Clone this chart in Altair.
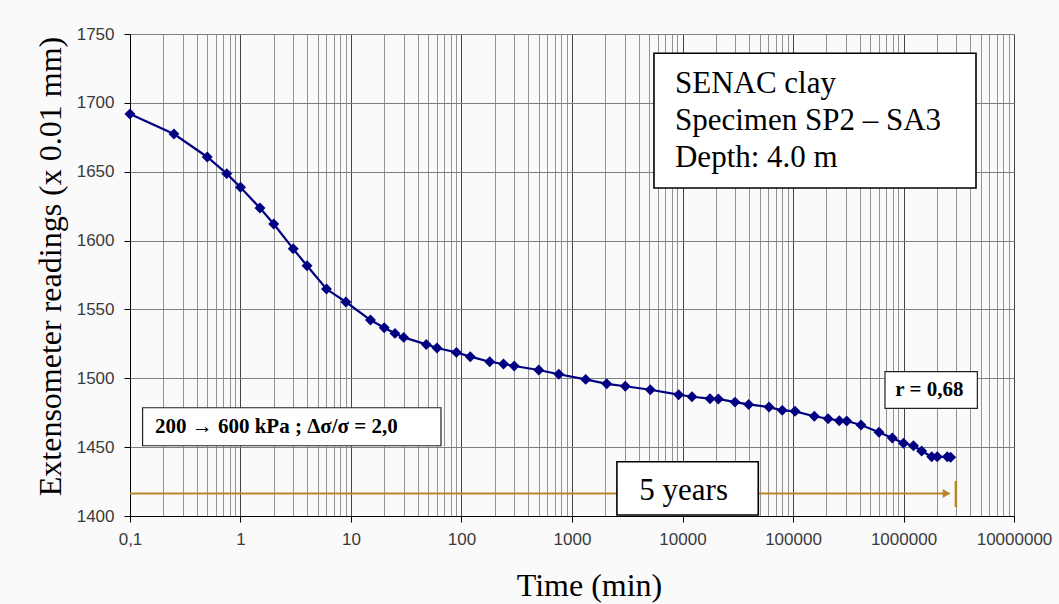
import altair as alt
import pandas as pd

# ---- measured series ----
time_min = [0.1, 0.25, 0.5, 0.75, 1, 1.5, 2, 3, 4, 6, 9, 15, 20, 25, 30, 48, 60, 90, 120,
            180, 240, 300, 500, 760, 1330, 2060, 3035, 5110, 9230, 12180, 17740, 21100,
            29850, 39700, 60640, 80000, 104300, 156000, 207600, 262600, 306300, 412500,
            600000, 792000, 1000000, 1230000, 1460000, 1800000, 2020000, 2490000, 2670000]
reading = [1691.9, 1677.4, 1660.7, 1648.6, 1638.7, 1623.6, 1612.0, 1594.0, 1581.7, 1564.8,
           1555.4, 1542.3, 1536.7, 1532.6, 1529.7, 1524.6, 1522.0, 1518.8, 1515.7, 1512.0,
           1510.4, 1508.9, 1506.0, 1502.9, 1499.2, 1496.0, 1494.2, 1491.7, 1488.1, 1486.6,
           1485.2, 1485.0, 1482.7, 1481.0, 1479.1, 1476.7, 1476.0, 1472.4, 1470.6, 1469.2,
           1469.0, 1466.1, 1460.8, 1456.6, 1452.8, 1451.0, 1447.2, 1443.0, 1443.0, 1443.0,
           1442.6]

# ---- axis ticks ----
x_ticks = [round(k * 10 ** n, 10) for n in range(-1, 7) for k in range(1, 10)] + [10000000]
y_ticks = [1400, 1450, 1500, 1550, 1600, 1650, 1700, 1750]

# ---- annotation boxes (data coordinates) ----
box_x1 = [5520, 2550]
box_x2 = [4530000, 48500]
box_y1 = [1736.0, 1439.4]
box_y2 = [1638.2, 1400.7]
small_box_x1 = [0.130, 680000]
small_box_x2 = [65.2, 4660000]
small_box_y1 = [1478.6, 1504.8]
small_box_y2 = [1451.0, 1478.2]

big_text = ["SENAC clay", "Specimen SP2 \u2013 SA3", "Depth: 4.0 m", "5 years"]
big_text_x = [8550, 8550, 8550, 4065]
big_text_y = [1707.2, 1680.3, 1653.6, 1411.6]

bold_text = ["200 \u2192 600 kPa ; \u0394\u03c3/\u03c3 = 2,0", "r = 0,68"]
bold_text_x = [0.168, 843000]
bold_text_y = [1460.5, 1487.3]

arrow_x1 = [0.1]
arrow_x2 = [2600000]
arrow_y = [1416.4]
arrow_head_x = [2450000]
end_tick_x = [2980000]
end_tick_y1 = [1425.4]
end_tick_y2 = [1406.5]

SERIF = "Liberation Serif"
SANS = "Liberation Sans"
ARROW = "#B8862B"
NAVY = "#000080"

DEC = "abs(log(datum.value)/LN10 - round(log(datum.value)/LN10)) < 0.001"

x_scale = alt.Scale(type="log", domain=[0.1, 10000000], nice=False)
y_scale = alt.Scale(domain=[1400, 1750], nice=False, zero=False)

x_axis = alt.Axis(
    values=x_ticks, title="Time (min)", grid=True,
    gridColor={"condition": {"test": DEC, "value": "#444444"}, "value": "#939393"},
    gridWidth=1,
    labelExpr=f"({DEC}) ? (datum.value < 1 ? replace(format(datum.value, '.1f'), '.', ',') : format(datum.value, 'd')) : ''",
    labelOverlap=False, labelFlush=False, labelFont=SANS, labelFontSize=17,
    labelColor="#3a3a3a", labelPadding=9, tickSize=6, tickColor="black",
    tickOpacity={"condition": {"test": DEC, "value": 1}, "value": 0},
    domainColor="black", domainWidth=1,
    titleFont=SERIF, titleFontSize=32, titleFontWeight="normal", titleColor="black",
    titleX=459, titleY=79, titleBaseline="alphabetic", titleAlign="center",
)
y_axis = alt.Axis(
    values=y_ticks, format="d", title="Extensometer readings (x 0.01 mm)", grid=True,
    gridColor="#808080", gridWidth=1, tickSize=6, tickColor="black",
    labelFont=SANS, labelFontSize=17, labelColor="#3a3a3a", labelPadding=10,
    labelFlush=False, labelOverlap=False,
    domainColor="black", domainWidth=1,
    titleFont=SERIF, titleFontSize=32, titleFontWeight="normal", titleColor="black",
    titleAngle=270, titleX=-70, titleY=232, titleBaseline="alphabetic", titleAlign="center",
)


def X(field):
    return alt.X(field, type="quantitative", scale=x_scale, axis=x_axis)


def Y(field):
    return alt.Y(field, type="quantitative", scale=y_scale, axis=y_axis)


series = pd.DataFrame({"t": time_min, "r": reading})
boxes = pd.DataFrame({"x1": box_x1, "x2": box_x2, "y1": box_y1, "y2": box_y2})
small_boxes = pd.DataFrame({"x1": small_box_x1, "x2": small_box_x2,
                            "y1": small_box_y1, "y2": small_box_y2})
big_df = pd.DataFrame({"x": big_text_x, "y": big_text_y, "txt": big_text})
bold_df = pd.DataFrame({"x": bold_text_x, "y": bold_text_y, "txt": bold_text})
arrow_df = pd.DataFrame({"x1": arrow_x1, "x2": arrow_x2, "y": arrow_y})
head_df = pd.DataFrame({"x": arrow_head_x, "y": arrow_y})
tick_df = pd.DataFrame({"x": end_tick_x, "y1": end_tick_y1, "y2": end_tick_y2})

line = alt.Chart(series).mark_line(color=NAVY, strokeWidth=2.2).encode(x=X("t"), y=Y("r"))
pts = alt.Chart(series).mark_point(shape="diamond", filled=True, size=120, color=NAVY,
                                   opacity=1).encode(x=X("t"), y=Y("r"))

arrow = alt.Chart(arrow_df).mark_rule(color=ARROW, strokeWidth=2).encode(
    x=X("x1"), x2="x2", y=Y("y"))
head = alt.Chart(head_df).mark_point(shape="triangle-right", filled=True, size=80,
                                     color=ARROW, opacity=1).encode(x=X("x"), y=Y("y"))
endtick = alt.Chart(tick_df).mark_rule(color=ARROW, strokeWidth=2.5).encode(
    x=X("x"), y=Y("y1"), y2="y2")

big_boxes = alt.Chart(boxes).mark_rect(fill="white", stroke="black", strokeWidth=1.6).encode(
    x=X("x1"), x2="x2", y=Y("y1"), y2="y2")
sm_boxes = alt.Chart(small_boxes).mark_rect(fill="white", stroke="#222222", strokeWidth=1.2).encode(
    x=X("x1"), x2="x2", y=Y("y1"), y2="y2")

big_txt = alt.Chart(big_df).mark_text(align="left", baseline="alphabetic", font=SERIF,
                                      fontSize=31, color="black").encode(
    x=X("x"), y=Y("y"), text="txt")
bold_txt = alt.Chart(bold_df).mark_text(align="left", baseline="alphabetic", font=SERIF,
                                        fontSize=21, fontWeight="bold", color="black").encode(
    x=X("x"), y=Y("y"), text="txt")

chart = alt.layer(
    arrow, head, endtick, line, pts, big_boxes, sm_boxes, big_txt, bold_txt
).properties(
    width=884, height=482,
    padding={"left": 130, "top": 34, "right": 45, "bottom": 88},
    autosize=alt.AutoSizeParams(type="none"),
    background="#fafafa",
).configure_view(stroke=None)

chart.save("out.html", embed_options={"renderer": "svg", "actions": False})
